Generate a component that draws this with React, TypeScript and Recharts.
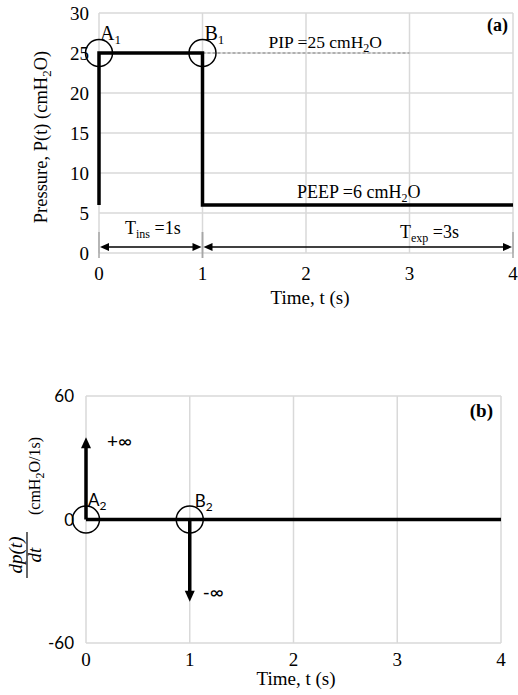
import type { ReactNode } from "react";
import {
  LineChart,
  Line,
  XAxis,
  YAxis,
  CartesianGrid,
  ReferenceLine,
  ReferenceDot,
  Customized,
} from "recharts";

const SERIF = "'Liberation Serif', 'Times New Roman', serif";
const SANS = "Lato, 'DejaVu Sans', sans-serif";
const GRID = "#d9d9d9";
const INK = "#000";

const timeTicks = [0, 1, 2, 3, 4];
const pressureTicks = [0, 5, 10, 15, 20, 25, 30];
const rateTicks = [-60, 0, 60];

// (a) square pressure wave, t in s, P in cmH2O
const pressureTime = [0, 0, 1, 1, 4];
const pressureValue = [6, 25, 25, 6, 6];
const pip = 25;
const peep = 6;
const tIns = 1;
const tEnd = 4;
const pipGuideEnd = 3;
const dimLevel = 0.75;

// (b) derivative dp/dt
const rateTime = [0, 4];
const rateValue = [0, 0];
const spikeTime = [0, 1];
const spikeValue = [40, -40];

const pressureData = pressureTime.map((t, i) => ({ t, p: pressureValue[i] }));
const rateData = rateTime.map((t, i) => ({ t, d: rateValue[i] }));

// triangle with tip at (x,y) pointing along (ux,uy)
function head(x: number, y: number, ux: number, uy: number, len: number, half: number) {
  const bx = x - ux * len;
  const by = y - uy * len;
  const px = -uy * half;
  const py = ux * half;
  return `${x},${y} ${bx + px},${by + py} ${bx - px},${by - py}`;
}

const dimArrow = (props: any) => {
  const { x1, y1, x2, y2 } = props;
  return (
    <g>
      <line x1={x1} y1={y1 - 15} x2={x1} y2={y1 + 11} stroke="#a6a6a6" strokeWidth={1.5} />
      <line x1={x2} y1={y2 - 15} x2={x2} y2={y2 + 11} stroke="#a6a6a6" strokeWidth={1.5} />
      <line x1={x1 + 6} y1={y1} x2={x2 - 6} y2={y2} stroke={INK} strokeWidth={1.5} />
      <polygon points={head(x1 + 1, y1, -1, 0, 9, 4)} fill={INK} />
      <polygon points={head(x2 - 1, y2, 1, 0, 9, 4)} fill={INK} />
    </g>
  );
};

const spikeArrow = (props: any) => {
  const { x1, y1, x2, y2 } = props;
  const len = Math.hypot(x2 - x1, y2 - y1) || 1;
  const ux = (x2 - x1) / len;
  const uy = (y2 - y1) / len;
  return (
    <g>
      <line x1={x1} y1={y1} x2={x2 - ux * 8} y2={y2 - uy * 8} stroke={INK} strokeWidth={3.5} />
      <polygon points={head(x2, y2, ux, uy, 11, 5)} fill={INK} />
    </g>
  );
};

function note(children: ReactNode, dx: number, dy: number, extra: Record<string, unknown> = {}) {
  return (props: any) => (
    <text
      x={props.cx + dx}
      y={props.cy + dy}
      fontFamily={SERIF}
      fontSize={18}
      fill={INK}
      {...extra}
    >
      {children}
    </text>
  );
}

// subscript followed by the rest of the text back on the baseline
const sub = (s: string, rest: string | null, size = 12, shift = 5) => (
  <>
    <tspan dy={shift} fontSize={size}>
      {s}
    </tspan>
    {rest !== null && <tspan dy={-shift}>{rest}</tspan>}
  </>
);

const circle = { r: 13.5, fill: "none", stroke: INK, strokeWidth: 1.5 };

function TitlesA() {
  return (
    <g fontFamily={SERIF} fill={INK}>
      <text x={310} y={304} fontSize={19} textAnchor="middle">
        Time, t (s)
      </text>
      <text transform="translate(47,137) rotate(-90)" fontSize={18.5} textAnchor="middle">
        Pressure, P(t) (cmH{sub("2", "O)", 13, 4)}
      </text>
    </g>
  );
}

function TitlesB() {
  return (
    <g fontFamily={SERIF} fill={INK}>
      <text x={296} y={315} fontSize={19} textAnchor="middle">
        Time, t (s)
      </text>
      <text transform="translate(22,185) rotate(-90)" fontSize={19} fontStyle="italic" textAnchor="middle">
        dp(t)
      </text>
      <line x1={27} y1={162} x2={27} y2={208} stroke={INK} strokeWidth={1.2} />
      <text transform="translate(41,185) rotate(-90)" fontSize={19} fontStyle="italic" textAnchor="middle">
        dt
      </text>
      <text transform="translate(40,106) rotate(-90)" fontSize={16} textAnchor="middle">
        (cmH{sub("2", "O/1s)", 12, 4)}
      </text>
    </g>
  );
}

const tickSerif = { fill: INK, fontSize: 19, fontFamily: SERIF };
const tickSans = { fill: INK, fontSize: 17, fontFamily: SANS };

export default function App() {
  return (
    <div style={{ position: "absolute", left: 0, top: 0, width: 518, height: 695, background: "#fff" }}>
      <div style={{ position: "absolute", left: 0, top: 0 }}>
        <LineChart width={518} height={310} data={pressureData} margin={{ top: 13, right: 5, left: 0, bottom: 0 }}>
          <CartesianGrid stroke={GRID} strokeWidth={1.5} />
          <XAxis
            dataKey="t"
            type="number"
            domain={[0, tEnd]}
            ticks={timeTicks}
            axisLine={false}
            tickLine={false}
            tickSize={0}
            tickMargin={14}
            height={57}
            tick={tickSerif}
          />
          <YAxis
            type="number"
            domain={[0, 30]}
            ticks={pressureTicks}
            axisLine={false}
            tickLine={false}
            tickSize={0}
            tickMargin={10}
            width={99}
            tick={tickSerif}
          />
          <ReferenceLine
            segment={[
              { x: tIns, y: pip },
              { x: pipGuideEnd, y: pip },
            ]}
            stroke="#7f7f7f"
            strokeWidth={1}
            strokeDasharray="3 2"
          />
          <ReferenceLine
            segment={[
              { x: 0, y: dimLevel },
              { x: tIns, y: dimLevel },
            ]}
            shape={dimArrow}
          />
          <ReferenceLine
            segment={[
              { x: tIns, y: dimLevel },
              { x: tEnd, y: dimLevel },
            ]}
            shape={dimArrow}
          />
          <Line
            dataKey="p"
            type="linear"
            stroke={INK}
            strokeWidth={3.5}
            strokeLinejoin="miter"
            dot={false}
            isAnimationActive={false}
          />
          <ReferenceDot x={0} y={pip} {...circle} />
          <ReferenceDot x={tIns} y={pip} {...circle} />
          <ReferenceDot x={0} y={pip} r={0} shape={note(<>A{sub("1", null, 13, 4)}</>, 1, -13, { fontSize: 20 })} />
          <ReferenceDot x={tIns} y={pip} r={0} shape={note(<>B{sub("1", null, 13, 4)}</>, 2, -13, { fontSize: 20 })} />
          <ReferenceDot x={tIns} y={pip} r={0} shape={note(<>PIP =25 cmH{sub("2", "O", 12, 4)}</>, 66, -5, { fontSize: 17.5 })} />
          <ReferenceDot x={tEnd} y={30} r={0} shape={note("(a)", -5, 18, { fontWeight: "bold", textAnchor: "end" })} />
          <ReferenceDot x={2} y={peep} r={0} shape={note(<>PEEP =6 cmH{sub("2", "O", 12, 4)}</>, -9, -7)} />
          <ReferenceDot x={0} y={0} r={0} shape={note(<>T{sub("ins", " =1s", 12, 4)}</>, 26, -19)} />
          <ReferenceDot x={3} y={0} r={0} shape={note(<>T{sub("exp", " =3s", 12, 4)}</>, -9.5, -15)} />
          <Customized component={TitlesA} />
        </LineChart>
      </div>
      <div style={{ position: "absolute", left: 0, top: 370 }}>
        <LineChart width={518} height={325} data={rateData} margin={{ top: 26, right: 17, left: 0, bottom: 0 }}>
          <CartesianGrid stroke={GRID} strokeWidth={1.5} />
          <XAxis
            dataKey="t"
            type="number"
            domain={[0, tEnd]}
            ticks={timeTicks}
            axisLine={false}
            tickLine={false}
            tickSize={0}
            tickMargin={10}
            height={52}
            tick={tickSerif}
          />
          <YAxis
            type="number"
            domain={[-60, 60]}
            ticks={rateTicks}
            axisLine={false}
            tickLine={false}
            tickSize={0}
            tickMargin={12}
            width={86}
            tick={tickSans}
          />
          <Line
            dataKey="d"
            type="linear"
            stroke={INK}
            strokeWidth={3.5}
            dot={false}
            isAnimationActive={false}
          />
          {spikeTime.map((t, i) => (
            <ReferenceLine
              key={`spike-${t}`}
              segment={[
                { x: t, y: 0 },
                { x: t, y: spikeValue[i] },
              ]}
              shape={spikeArrow}
            />
          ))}
          {spikeTime.map((t) => (
            <ReferenceDot key={`c-${t}`} x={t} y={0} {...circle} />
          ))}
          <ReferenceDot x={spikeTime[0]} y={0} r={0} shape={note(<>A{sub("2", null, 12, 4)}</>, 2, -14, { fontFamily: SANS, fontSize: 17 })} />
          <ReferenceDot x={spikeTime[1]} y={0} r={0} shape={note(<>B{sub("2", null, 12, 4)}</>, 5, -13, { fontFamily: SANS, fontSize: 17 })} />
          <ReferenceDot x={spikeTime[0]} y={spikeValue[0]} r={0} shape={note("+∞", 21, 11, { fontFamily: SANS, fontSize: 19 })} />
          <ReferenceDot x={spikeTime[1]} y={spikeValue[1]} r={0} shape={note("-∞", 13, -3, { fontFamily: SANS, fontSize: 19 })} />
          <ReferenceDot x={tEnd} y={60} r={0} shape={note("(b)", -8, 21, { fontWeight: "bold", textAnchor: "end", fontSize: 19 })} />
          <Customized component={TitlesB} />
        </LineChart>
      </div>
    </div>
  );
}
